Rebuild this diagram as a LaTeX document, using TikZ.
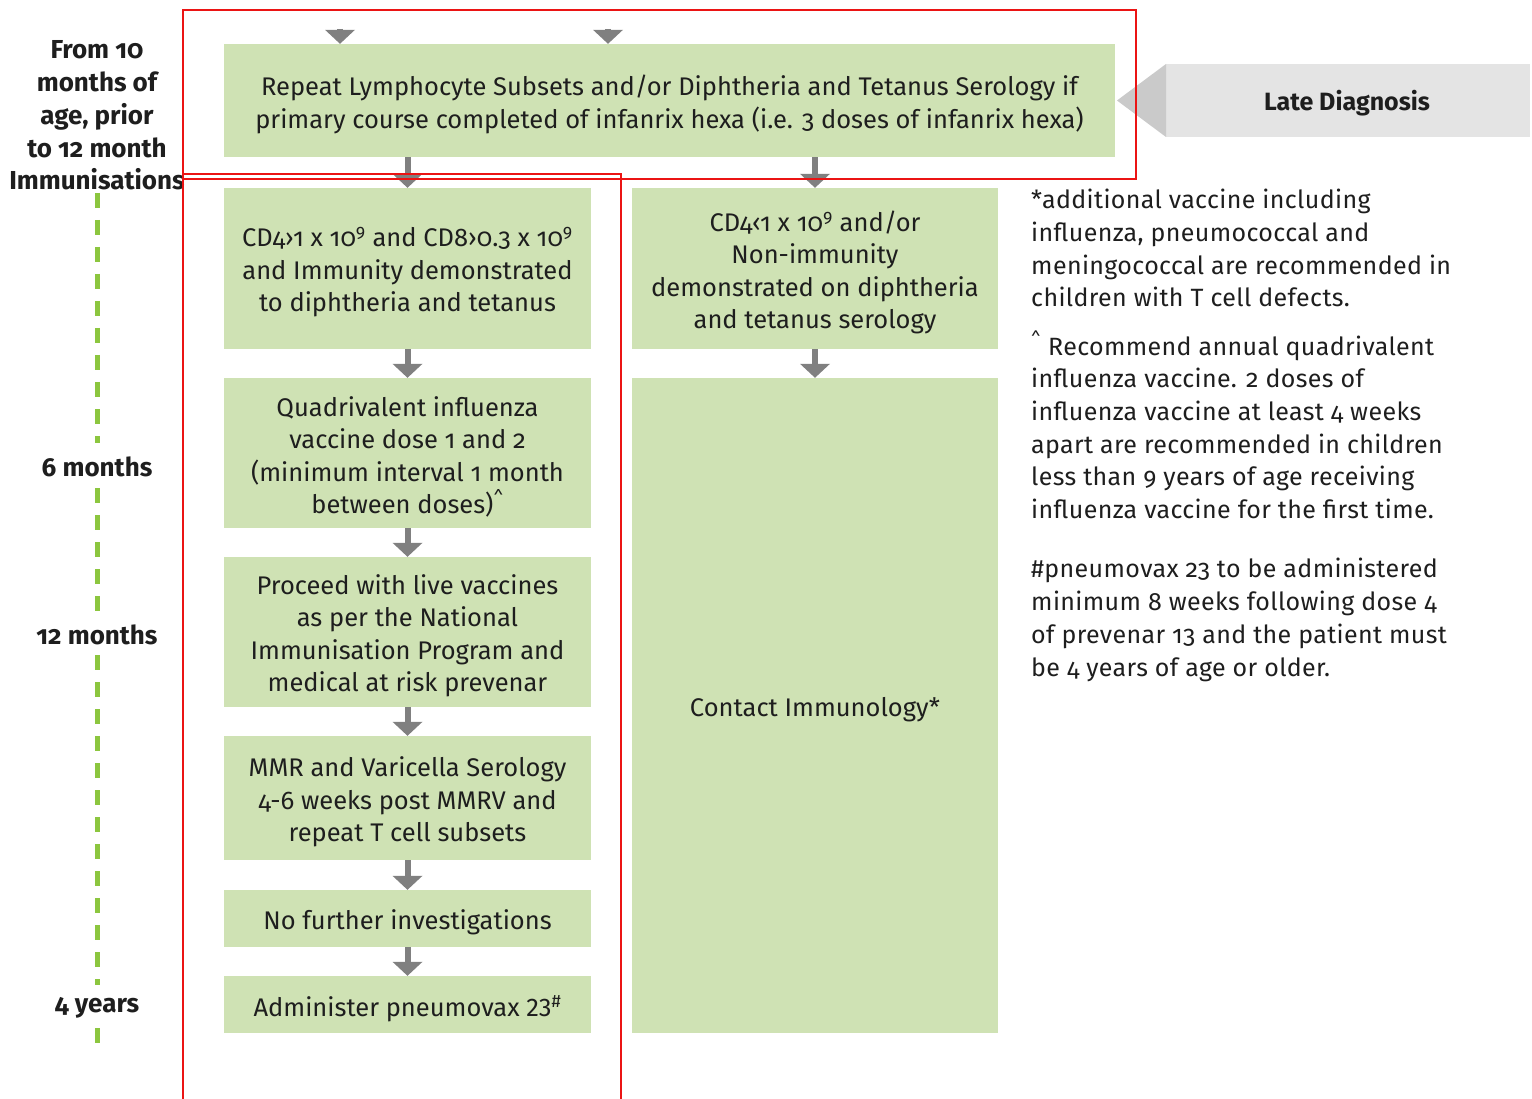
\documentclass[tikz,border=0pt]{standalone}
\usepackage{fontspec}
\setmainfont{Fira Sans}[Numbers=OldStyle]
\usetikzlibrary{arrows.meta}
\definecolor{boxgreen}{RGB}{207,226,180}
\definecolor{arrowgrey}{RGB}{128,128,128}
\definecolor{txt}{RGB}{30,30,30}
\definecolor{hired}{RGB}{235,20,20}
\definecolor{timegreen}{RGB}{140,198,63}
\definecolor{lategrey}{RGB}{228,228,228}
\definecolor{tipgrey}{RGB}{202,202,202}
\tikzset{
  box/.style={fill=boxgreen, draw=none, inner sep=0pt},
  boxtext/.style={align=center, text=txt, inner sep=0pt, yshift=-4pt,
    font=\fontsize{25.5}{32.5}\selectfont},
  conn/.style={draw=arrowgrey, line width=6pt,
    -{Triangle[width=30pt,length=14pt,line width=0pt]}},
  tlabel/.style={align=center, text=txt, inner sep=0pt,
    font=\fontsize{26}{32.8}\selectfont\bfseries},
  tline/.style={draw=timegreen, line width=5pt, dash pattern=on 15pt off 12pt},
  note/.style={align=left, text=txt, inner sep=0pt, anchor=base west,
    font=\fontsize{25}{32.7}\selectfont\addfontfeature{LetterSpace=1.5}},
  hilite/.style={draw=hired, line width=1.5pt}
}
\begin{document}
\begin{tikzpicture}[x=1pt,y=-1pt]
\useasboundingbox (0,0) rectangle (1532,1099);
\fill[white] (0,0) rectangle (1532,1099);

% top box
\node[box, minimum width=891pt, minimum height=113pt,
  label={[boxtext]center:{Repeat Lymphocyte Subsets and/or Diphtheria and Tetanus Serology if\\
   primary course completed of infanrix hexa (i.e. 3 doses of infanrix hexa)}}] (top) at (669.5,100.5) {};

% left column
\node[box, minimum width=367pt, minimum height=161pt,
  label={[boxtext]center:{CD4›1 x 10\textsuperscript{9} and CD8›0.3 x 10\textsuperscript{9}\\
   and Immunity demonstrated\\ to diphtheria and tetanus}}] (b1) at (407.5,268.5) {};
\node[box, minimum width=367pt, minimum height=150pt,
  label={[boxtext]center:{Quadrivalent influenza\\ vaccine dose 1 and 2\\ (minimum interval 1 month\\
   between doses)\textsuperscript{\textasciicircum}}}] (b2) at (407.5,453) {};
\node[box, minimum width=367pt, minimum height=150pt,
  label={[boxtext]center:{Proceed with live vaccines\\ as per the National\\ Immunisation Program and\\
   medical at risk prevenar}}] (b3) at (407.5,632) {};
\node[box, minimum width=367pt, minimum height=124pt,
  label={[boxtext]center:{MMR and Varicella Serology\\ 4-6 weeks post MMRV and\\ repeat T cell subsets}}] (b4) at (407.5,798) {};
\node[box, minimum width=367pt, minimum height=57pt,
  label={[boxtext]center:{No further investigations}}] (b5) at (407.5,918.5) {};
\node[box, minimum width=367pt, minimum height=57pt,
  label={[boxtext]center:{Administer pneumovax {\addfontfeature{Numbers=Lining}23}\textsuperscript{\#}}}] (b6) at (407.5,1004.5) {};

% right column
\node[box, minimum width=366pt, minimum height=161pt,
  label={[boxtext]center:{CD4‹1 x 10\textsuperscript{9} and/or\\ Non-immunity\\
   demonstrated on diphtheria\\ and tetanus serology}}] (r1) at (815,268.5) {};
\node[box, minimum width=366pt, minimum height=655pt,
  label={[boxtext]center:{Contact Immunology*}}] (r2) at (815,705.5) {};

% incoming arrowheads
\coordinate (in1) at (340,29);
\coordinate (in2) at (608,29);
\draw[conn] (in1) -- (in1 |- top.north);
\draw[conn] (in2) -- (in2 |- top.north);

% connectors
\draw[conn] (b1.north |- top.south) -- (b1.north);
\draw[conn] (r1.north |- top.south) -- (r1.north);
\draw[conn] (b1) -- (b2);
\draw[conn] (b2) -- (b3);
\draw[conn] (b3) -- (b4);
\draw[conn] (b4) -- (b5);
\draw[conn] (b5) -- (b6);
\draw[conn] (r1) -- (r2);

% late diagnosis
\fill[lategrey] (1166,64) rectangle (1530,137);
\fill[tipgrey] (1117,100.5) -- (1166,64) -- (1166,137) -- cycle;
\node[text=txt, inner sep=0pt, font=\fontsize{25}{30}\selectfont\bfseries] (late) at (1347,103)
  {Late Diagnosis};

% timeline
\node[tlabel] (t0) at (97,115.5)
  {From 10\\ months of\\ age, prior\\ to 12 month\\ Immunisations};
\node[tlabel] (t1) at (97,467) {6 months};
\node[tlabel] (t2) at (97,635) {12 months};
\node[tlabel] (t3) at (97,1008) {4 years};
\coordinate (d1a) at (97,193);
\coordinate (d1b) at (97,443);
\coordinate (d2a) at (97,488);
\coordinate (d2b) at (97,611);
\coordinate (d3a) at (97,655);
\coordinate (d3b) at (97,985);
\coordinate (d4a) at (97,1028);
\coordinate (d4b) at (97,1045);
\draw[tline] (d1a) -- (d1b);
\draw[tline] (d2a) -- (d2b);
\draw[tline] (d3a) -- (d3b);
\draw[tline] (d4a) -- (d4b);

% notes (anchor = baseline of last line)
\node[note] (n1) at (1031,307)
  {*additional vaccine including\\ influenza, pneumococcal and\\
   meningococcal are recommended in\\ children with T cell defects.};
\node[note] (n2) at (1031,518.5)
  {\textsuperscript{\textasciicircum} Recommend annual quadrivalent\\
   influenza vaccine. 2 doses of\\ influenza vaccine at least 4 weeks\\
   apart are recommended in children\\ less than 9 years of age receiving\\
   influenza vaccine for the first time.};
\node[note] (n3) at (1031,676)
  {\#pneumovax 23 to be administered\\ minimum 8 weeks following dose 4\\
   of prevenar 13 and the patient must\\ be 4 years of age or older.};

% highlight frames
\draw[hilite] (183,10) rectangle (1136,179);
\draw[hilite] (183,1100) -- (183,174) -- (621,174) -- (621,1100);
\end{tikzpicture}
\end{document}
